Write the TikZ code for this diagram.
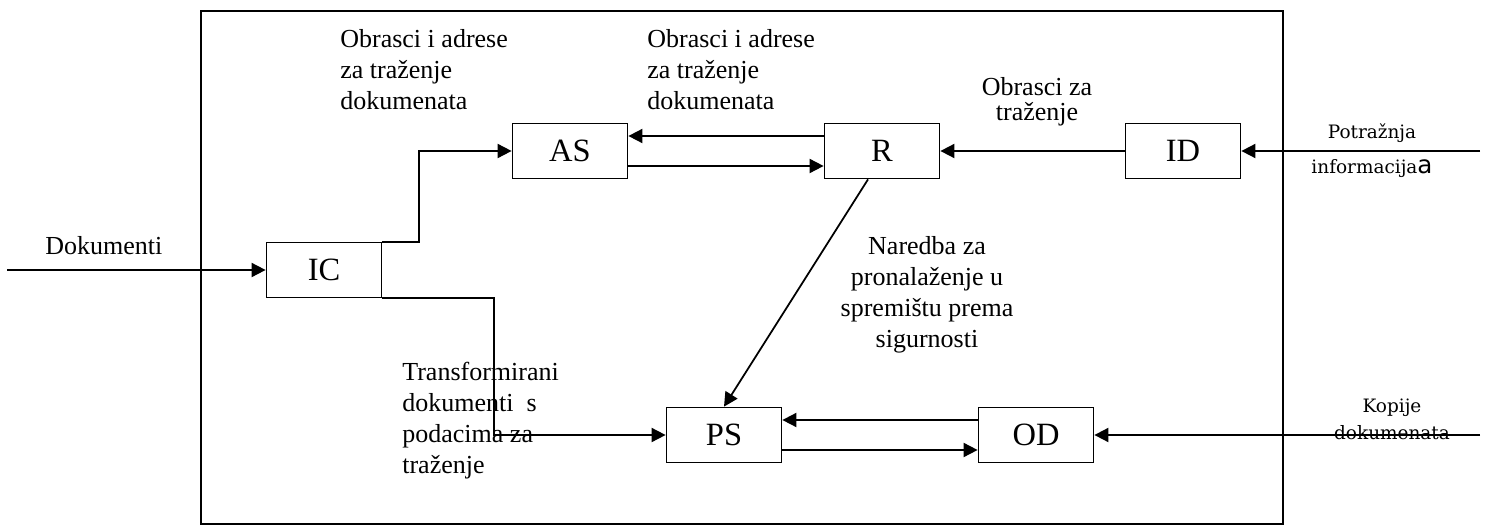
\documentclass[tikz,border=0pt]{standalone}
\usepackage{fontspec}
\setmainfont{Liberation Serif}
\newfontfamily\malifont{DejaVu Serif}
\newfontfamily\velikasans{DejaVu Sans}
\usetikzlibrary{arrows.meta,positioning}

\begin{document}
\begin{tikzpicture}[x=0.02cm,y=-0.02cm,
  blok/.style={draw,line width=1pt,minimum width=2.3cm,minimum height=1.1cm,inner sep=0pt,font=\fontsize{18.5}{20}\selectfont},
  opis/.style={inner sep=0pt,font=\fontsize{14.8}{17.6}\selectfont},
  mali/.style={inner sep=0pt,align=center,font=\fontsize{10.5}{15.4}\selectfont\malifont},
  strel/.style={line width=1pt,-{Triangle[length=8pt,width=8pt]}}]
\useasboundingbox (0,0) rectangle (1486,530);
\draw[line width=1.1pt] (201,11) rectangle (1283,524);

\node[blok] (AS) at (570,151) {AS};
\node[blok] (R) at (882,151) {R};
\node[blok] (ID) at (1183,151) {ID};
\node[blok] (IC) at (324,270) {IC};
\node[blok] (PS) at (724,435) {PS};
\node[blok] (OD) at (1036,435) {OD};

\coordinate (dokin) at (7,270);
\coordinate (potin) at (1480,151);
\coordinate (kopin) at (1480,435);

\draw[strel] (dokin) -- (IC);
\draw[strel] (IC.north east) -- ++(37,0) |- (AS);
\draw[strel] (IC.south east) -- ++(112,0) |- (PS);
\draw[strel] ([yshift=0.3cm]R.west) -- ([yshift=0.3cm]AS.east);
\draw[strel] ([yshift=-0.3cm]AS.east) -- ([yshift=-0.3cm]R.west);
\draw[strel] (ID) -- (R);
\draw[strel] (potin) -- (ID);
\draw[strel] ([xshift=-0.28cm]R.south) -- (PS.north);
\draw[strel] ([yshift=0.3cm]OD.west) -- ([yshift=0.3cm]PS.east);
\draw[strel] ([yshift=-0.3cm]PS.east) -- ([yshift=-0.3cm]OD.west);
\draw[strel] (kopin) -- (OD);

\node[opis,align=left,anchor=north west] (obr1) at (340,29) {Obrasci i adrese\\za traženje\\dokumenata};
\node[opis,align=left,anchor=north west] (obr2) at (647,29) {Obrasci i adrese\\za traženje\\dokumenata};
\node[opis,align=center,anchor=north,font=\fontsize{14.8}{14.2}\selectfont] (obr3) at (1037,77) {Obrasci za\\traženje};
\node[opis,align=center,anchor=north] (naredba) at (927,236) {Naredba za\\pronalaženje u\\spremištu prema\\sigurnosti};
\node[opis,align=left,anchor=north west] (transf) at (402,362) {Transformirani\\dokumenti\ \ s\\podacima za\\traženje};
\node[opis,anchor=base west] (dok) at (45,254) {Dokumenti};
\node[mali,anchor=north,font=\fontsize{10.5}{20}\selectfont\malifont] (potr) at (1372,123) {Potražnja\\informacija{\fontsize{14}{20}\selectfont\velikasans a}};
\node[mali,anchor=north] (kop) at (1392,399) {Kopije\\dokumenata};
\end{tikzpicture}
\end{document}
